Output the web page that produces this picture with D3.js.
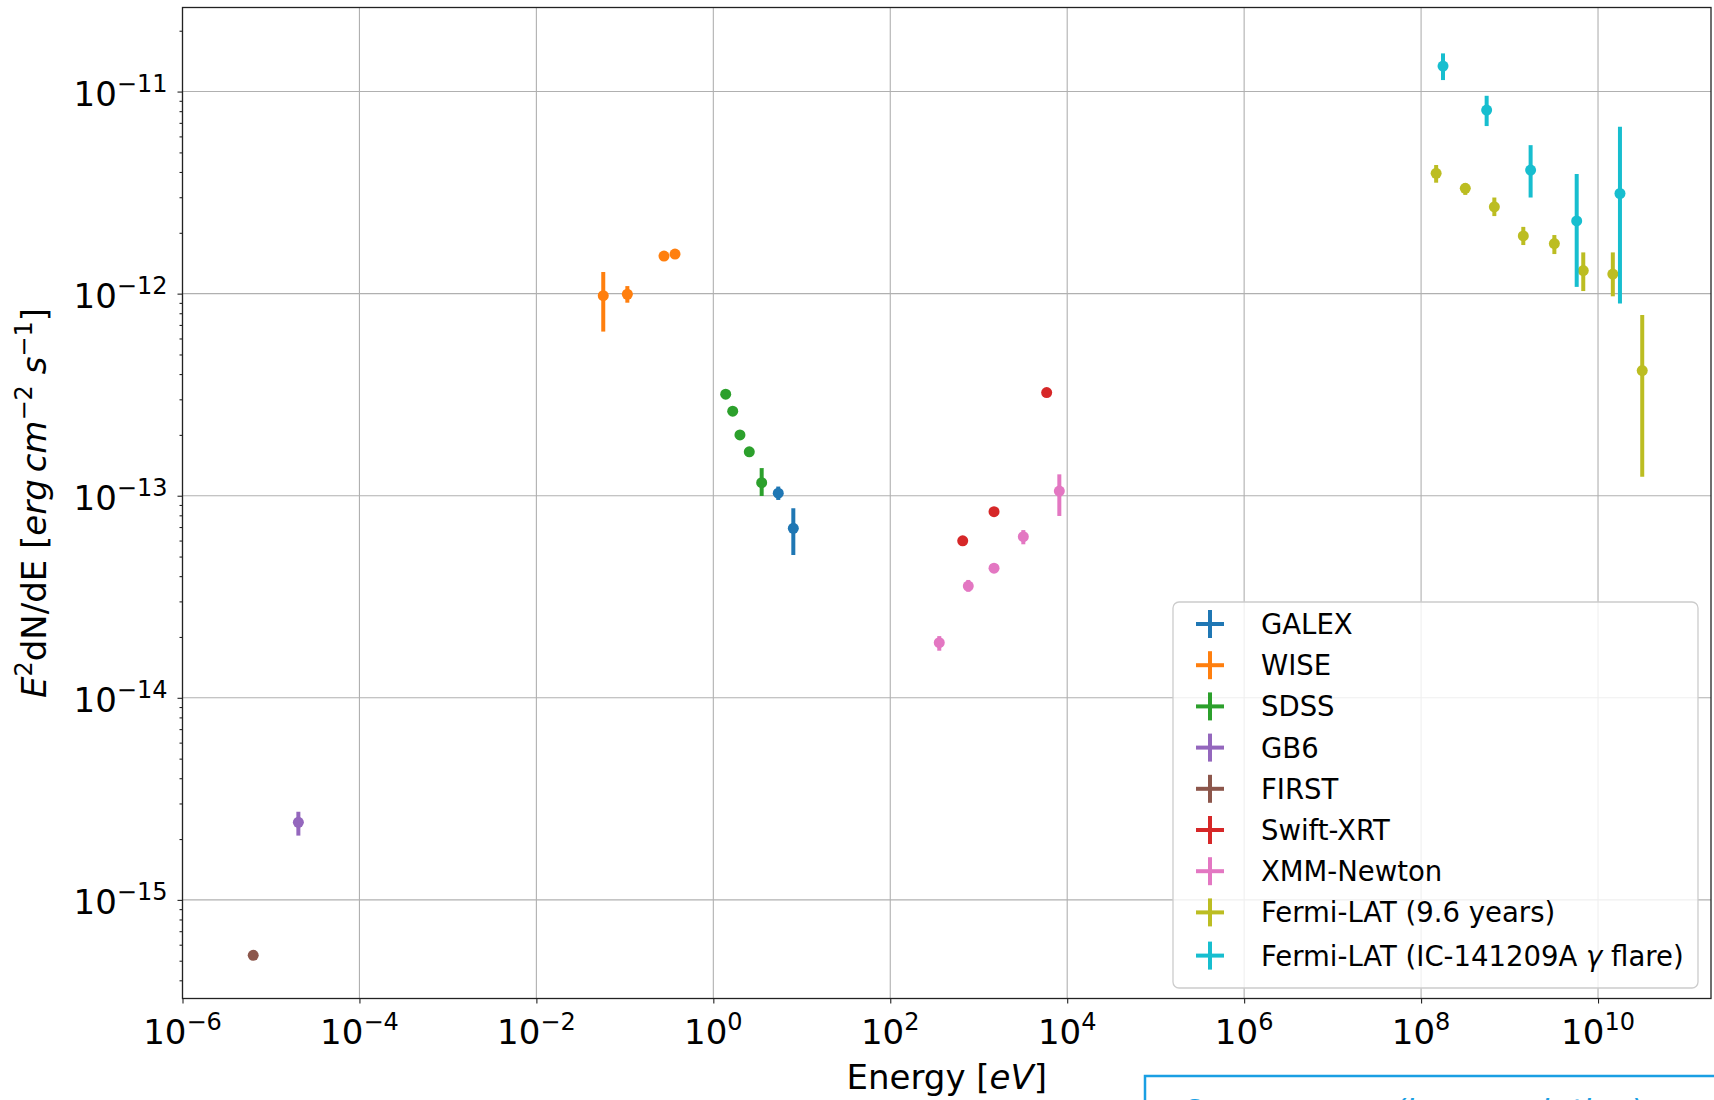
<!DOCTYPE html>
<html lang="en">
<head>
<meta charset="UTF-8">
<title>SED</title>
<script src="https://d3js.org/d3.v7.min.js"></script>
<style>
  body { margin: 0; background: #fff; overflow: hidden; }
  svg text { font-family: "DejaVu Sans", sans-serif; fill: #000; }
</style>
</head>
<body>
<div id="chart"></div>
<script>
// legend order
var instruments = ["GALEX", "WISE", "SDSS", "GB6", "FIRST", "Swift-XRT", "XMM-Newton",
                   "Fermi-LAT (9.6 years)", "Fermi-LAT (IC-141209A γ flare)"];
var colors = ["#1f77b4", "#ff7f0e", "#2ca02c", "#9467bd", "#8c564b", "#d62728", "#e377c2", "#bcbd22", "#17becf"];

// energy [eV], E^2 dN/dE, lower and upper end of the error bar (null = no bar)
var galexE  = [5.42, 8.02];
var galexF  = [1.03e-13, 6.90e-14];
var galexLo = [9.53e-14, 5.09e-14];
var galexHi = [1.11e-13, 8.67e-14];

var wiseE  = [0.057, 0.1067, 0.277, 0.369];
var wiseF  = [9.77e-13, 9.93e-13, 1.535e-12, 1.57e-12];
var wiseLo = [6.49e-13, 9.02e-13, null, null];
var wiseHi = [1.28e-12, 1.09e-12, null, null];

var sdssE  = [1.38, 1.656, 2.00, 2.55, 3.52];
var sdssF  = [3.18e-13, 2.62e-13, 2.00e-13, 1.65e-13, 1.16e-13];
var sdssLo = [null, null, null, null, 9.97e-14];
var sdssHi = [null, null, null, null, 1.37e-13];

var gb6E  = [2.04e-5];
var gb6F  = [2.42e-15];
var gb6Lo = [2.08e-15];
var gb6Hi = [2.73e-15];

var firstE  = [6.3e-6];
var firstF  = [5.32e-16];
var firstLo = [null];
var firstHi = [null];

var swiftE  = [659, 1489, 5861];
var swiftF  = [5.98e-14, 8.34e-14, 3.24e-13];
var swiftLo = [null, null, null];
var swiftHi = [null, null, null];

var xmmE  = [358, 762, 1489, 3192, 8147];
var xmmF  = [1.875e-14, 3.57e-14, 4.38e-14, 6.27e-14, 1.054e-13];
var xmmLo = [1.71e-14, 3.35e-14, null, 5.75e-14, 7.94e-14];
var xmmHi = [2.02e-14, 3.83e-14, null, 6.76e-14, 1.276e-13];

var lat96E  = [1.48e8, 3.16e8, 6.73e8, 1.43e9, 3.21e9, 6.81e9, 1.47e10, 3.16e10];
var lat96F  = [3.94e-12, 3.32e-12, 2.69e-12, 1.93e-12, 1.77e-12, 1.30e-12, 1.25e-12, 4.16e-13];
var lat96Lo = [3.54e-12, 3.08e-12, 2.42e-12, 1.74e-12, 1.57e-12, 1.03e-12, 9.7e-13, 1.24e-13];
var lat96Hi = [4.33e-12, 3.52e-12, 2.99e-12, 2.14e-12, 1.95e-12, 1.60e-12, 1.60e-12, 7.83e-13];

var flareE  = [1.77e8, 5.51e8, 1.73e9, 5.74e9, 1.77e10];
var flareF  = [1.337e-11, 8.10e-12, 4.09e-12, 2.29e-12, 3.13e-12];
var flareLo = [1.14e-11, 6.75e-12, 2.99e-12, 1.08e-12, 8.95e-13];
var flareHi = [1.545e-11, 9.53e-12, 5.43e-12, 3.91e-12, 6.70e-12];

// tick labels (exponents of 10)
var xTickExp = [-6, -4, -2, 0, 2, 4, 6, 8, 10];
var yTickExp = [-15, -14, -13, -12, -11];

var series = [
  [galexE, galexF, galexLo, galexHi],
  [wiseE, wiseF, wiseLo, wiseHi],
  [sdssE, sdssF, sdssLo, sdssHi],
  [gb6E, gb6F, gb6Lo, gb6Hi],
  [firstE, firstF, firstLo, firstHi],
  [swiftE, swiftF, swiftLo, swiftHi],
  [xmmE, xmmF, xmmLo, xmmHi],
  [lat96E, lat96F, lat96Lo, lat96Hi],
  [flareE, flareF, flareLo, flareHi]
].map(function(s, i) {
  return {
    name: instruments[i], color: colors[i],
    points: s[0].map(function(e, j) { return {e: e, f: s[1][j], lo: s[2][j], hi: s[3][j]}; })
  };
});

var width = 1714, height = 1100;
var plotL = 182.5, plotR = 1711, plotT = 7.5, plotB = 998.5;

var svg = d3.select("#chart").append("svg")
    .attr("width", width).attr("height", height);

var x = d3.scaleLog().domain([1e-6, Math.pow(10, 11.277)]).range([plotL, plotR]);
var y = d3.scaleLog().domain([Math.pow(10, -15.488), Math.pow(10, -10.584)]).range([plotB, plotT]);

var xTicks = xTickExp.map(function(p) { return Math.pow(10, p); });
var yTicks = yTickExp.map(function(p) { return Math.pow(10, p); });
var yMinor = [];
for (var p = -16; p <= -11; p++) {
  for (var k = 2; k <= 9; k++) {
    var v = k * Math.pow(10, p);
    if (v > y.domain()[0] && v < y.domain()[1]) yMinor.push(v);
  }
}

// grid
svg.append("g").selectAll("line").data(xTicks).enter().append("line")
    .attr("x1", function(d) { return x(d); }).attr("x2", function(d) { return x(d); })
    .attr("y1", plotT).attr("y2", plotB)
    .attr("stroke", "#b0b0b0").attr("stroke-width", 1.1);
svg.append("g").selectAll("line").data(yTicks).enter().append("line")
    .attr("y1", function(d) { return y(d); }).attr("y2", function(d) { return y(d); })
    .attr("x1", plotL).attr("x2", plotR)
    .attr("stroke", "#b0b0b0").attr("stroke-width", 1.1);

// tick marks
function tickStyle(g) {
  g.select(".domain").remove();
  g.selectAll("line").attr("stroke", "#222").attr("stroke-width", 1.1);
}
svg.append("g").attr("transform", "translate(0," + plotB + ")")
    .call(d3.axisBottom(x).tickValues(xTicks).tickSize(5).tickFormat(""))
    .call(tickStyle);
svg.append("g").attr("transform", "translate(" + plotL + ",0)")
    .call(d3.axisLeft(y).tickValues(yTicks).tickSize(5).tickFormat(""))
    .call(tickStyle);
svg.append("g").attr("transform", "translate(" + plotL + ",0)")
    .call(d3.axisLeft(y).tickValues(yMinor).tickSize(3).tickFormat(""))
    .call(tickStyle);

// 10^n labels
function powLabel(sel, n) {
  sel.append("tspan").text("10");
  sel.append("tspan").attr("font-size", 24).attr("dy", -14)
      .text(n < 0 ? "\u2212" + (-n) : String(n));
}
xTickExp.forEach(function(n) {
  var t = svg.append("text").attr("x", x(Math.pow(10, n))).attr("y", plotB + 45)
      .attr("text-anchor", "middle").attr("font-size", 34);
  powLabel(t, n);
});
yTickExp.forEach(function(n) {
  var t = svg.append("text").attr("x", plotL - 15).attr("y", y(Math.pow(10, n)) + 14)
      .attr("text-anchor", "end").attr("font-size", 34);
  powLabel(t, n);
});

// axis labels
var xl = svg.append("text").attr("x", (plotL + plotR) / 2).attr("y", 1089)
    .attr("text-anchor", "middle").attr("font-size", 34);
xl.append("tspan").text("Energy [");
xl.append("tspan").attr("font-style", "italic").text("eV");
xl.append("tspan").text("]");

var yl = svg.append("text").attr("transform", "translate(46," + (plotT + plotB) / 2 + ") rotate(-90)")
    .attr("text-anchor", "middle").attr("font-size", 34);
yl.append("tspan").attr("font-style", "italic").text("E");
yl.append("tspan").attr("font-size", 24).attr("dy", -14).text("2");
yl.append("tspan").attr("dy", 14).text("dN/dE [");
yl.append("tspan").attr("font-style", "italic").text("erg\u2009cm");
yl.append("tspan").attr("font-size", 24).attr("dy", -14).text("\u22122");
yl.append("tspan").attr("dy", 14).attr("font-style", "italic").text(" s");
yl.append("tspan").attr("font-size", 24).attr("dy", -14).text("\u22121");
yl.append("tspan").attr("dy", 14).text("]");

// data
var groups = svg.append("g").selectAll("g").data(series).enter().append("g")
    .attr("fill", function(d) { return d.color; })
    .attr("stroke", function(d) { return d.color; });
groups.selectAll("line").data(function(d) { return d.points.filter(function(p) { return p.lo !== null; }); })
  .enter().append("line")
    .attr("x1", function(d) { return x(d.e); }).attr("x2", function(d) { return x(d.e); })
    .attr("y1", function(d) { return y(d.lo); }).attr("y2", function(d) { return y(d.hi); })
    .attr("stroke-width", 4);
groups.selectAll("circle").data(function(d) { return d.points; })
  .enter().append("circle")
    .attr("cx", function(d) { return x(d.e); })
    .attr("cy", function(d) { return y(d.f); })
    .attr("r", 5.5).attr("stroke", "none");

// legend
var legend = svg.append("g");
legend.append("rect").attr("x", 1173).attr("y", 602).attr("width", 525).attr("height", 386)
    .attr("rx", 6).attr("fill", "#fff").attr("fill-opacity", 0.8)
    .attr("stroke", "#cccccc").attr("stroke-width", 1.3);
var rows = legend.selectAll("g.row").data(series).enter().append("g")
    .attr("transform", function(d, i) { return "translate(1210," + (624 + i * 41.2 + (i === 8 ? 2 : 0)) + ")"; });
rows.append("line").attr("x1", -14).attr("x2", 14)
    .attr("stroke", function(d) { return d.color; }).attr("stroke-width", 4);
rows.append("line").attr("y1", -14).attr("y2", 14)
    .attr("stroke", function(d) { return d.color; }).attr("stroke-width", 4);
rows.append("text").attr("x", 51).attr("y", 10).attr("font-size", 27.5)
    .each(function(d) {
      var t = d3.select(this);
      if (d.name.indexOf("γ") >= 0) {
        var parts = d.name.split("γ");
        t.append("tspan").text(parts[0]);
        t.append("tspan").attr("font-style", "italic").text("γ");
        t.append("tspan").text(parts[1]);
      } else {
        t.text(d.name);
      }
    });

// spines
svg.append("rect").attr("x", plotL).attr("y", plotT)
    .attr("width", plotR - plotL).attr("height", plotB - plotT)
    .attr("fill", "none").attr("stroke", "#222").attr("stroke-width", 1.3);

// page caption box cut by the bottom edge
svg.append("rect").attr("x", 1145).attr("y", 1076).attr("width", 620).attr("height", 100)
    .attr("fill", "#fff").attr("stroke", "#1a9fe3").attr("stroke-width", 2.5);
svg.append("text").attr("x", 1180).attr("y", 1122).attr("font-size", 32)
    .attr("font-style", "italic").style("fill", "#1a9fe3")
    .text("Open source (low-resolution)");
</script>
</body>
</html>
